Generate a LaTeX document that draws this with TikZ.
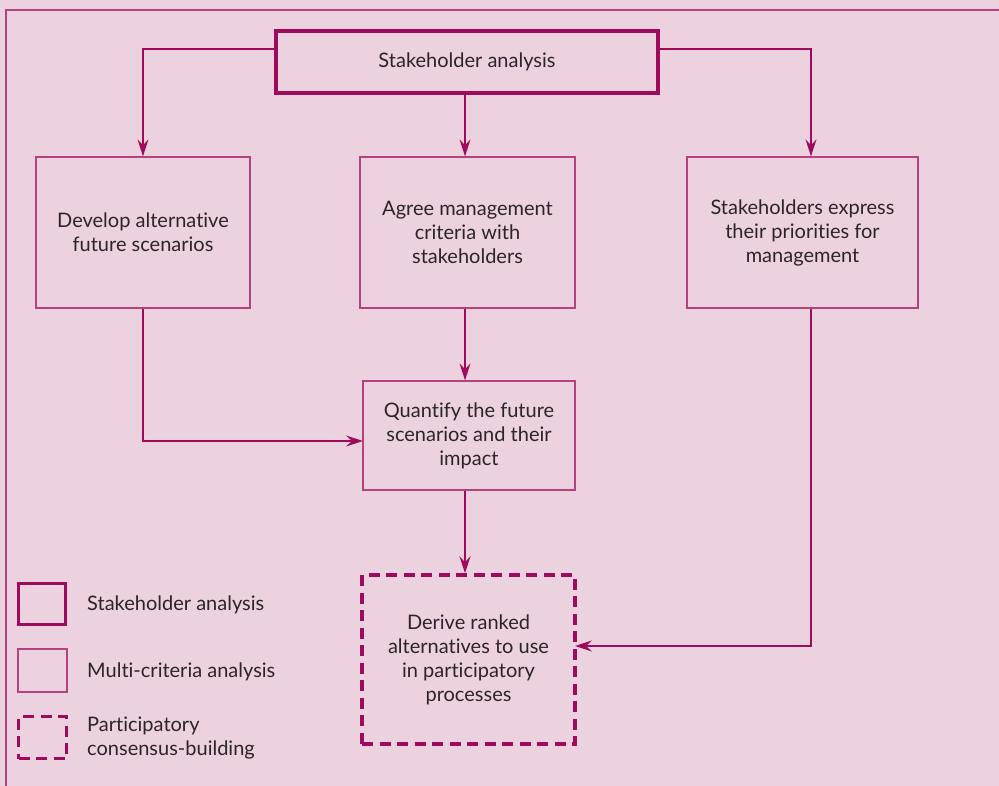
\documentclass[tikz,border=0pt]{standalone}
\usepackage{fontspec}
\setmainfont[Ligatures={NoCommon}]{Lato}
\usetikzlibrary{arrows.meta}
\definecolor{bg}{HTML}{ECD2DF}
\definecolor{plum}{HTML}{9E0B5C}
\definecolor{thinc}{HTML}{B5427F}
\definecolor{txt}{HTML}{2B2527}
\begin{document}
\begin{tikzpicture}[x=1pt,y=-1pt,
  every node/.style={font=\fontsize{20}{24}\selectfont, text=txt, align=center, inner sep=0pt},
  thinbox/.style={draw=thinc, line width=1.3pt},
  thickbox/.style={draw=plum, line width=3.5pt},
  dashbox/.style={draw=plum, line width=3.5pt, dash pattern=on 11pt off 6.5pt},
  arr/.style={draw=plum, line width=1.3pt, -{Stealth[length=17pt,width=11pt,inset=6pt]}},
  legtext/.style={anchor=west, align=left}]
\fill[bg] (0,0) rectangle (999,786);
\useasboundingbox (0,0) rectangle (999,786);
\draw[thinc, line width=1.5pt] (999,10) -- (6,10) -- (6,786);
% main nodes
\node[thickbox, minimum width=382pt, minimum height=62pt] (top) at (467,62) {Stakeholder analysis};
\node[thinbox, minimum width=214pt, minimum height=151pt] (b1) at (143,232.5) {Develop alternative\\future scenarios};
\node[thinbox, minimum width=215pt, minimum height=151pt] (b2) at (467.5,232.5) {Agree management\\criteria with\\stakeholders};
\node[thinbox, minimum width=231pt, minimum height=151pt] (b3) at (802.5,232.5) {Stakeholders express\\their priorities for\\management};
\node[thinbox, minimum width=212pt, minimum height=109pt] (q) at (469,435.5) {Quantify the future\\scenarios and their\\impact};
\node[dashbox, minimum width=213pt, minimum height=169pt] (d) at (468.5,659.5) {Derive ranked\\alternatives to use\\in participatory\\processes};
% bend coordinates
\coordinate (l) at (143,49);
\coordinate (r) at (811,49);
\coordinate (qa) at (363,441);
\coordinate (da) at (575,646);
% connectors
\draw[arr] (top.west |- l) -| (b1.north -| l);
\draw[arr] (top.east |- r) -| (b3.north -| r);
\draw[arr] (top.south -| 465,0) -- (b2.north -| 465,0);
\draw[arr] (b2.south -| 465,0) -- (q.north -| 465,0);
\draw[arr] (q.south -| 465,0) -- (d.north -| 465,0);
\draw[arr] (b1.south) |- (qa);
\draw[arr] (b3.south -| r) |- (da);
% legend
\node[thickbox, minimum width=47pt, minimum height=41pt] (lg1) at (42,604) {};
\node[thinbox, minimum width=49pt, minimum height=43pt] (lg2) at (42.5,670.5) {};
\node[dashbox, minimum width=48pt, minimum height=42pt] (lg3) at (42.5,737.5) {};
\node[legtext] (lt1) at (87,605) {Stakeholder analysis};
\node[legtext] (lt2) at (87,672) {Multi-criteria analysis};
\node[legtext] (lt3) at (87,738.5) {Participatory\\consensus-building};
\end{tikzpicture}
\end{document}
